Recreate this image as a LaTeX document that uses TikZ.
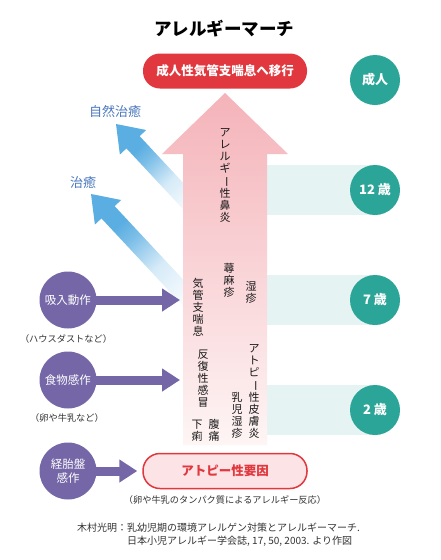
\documentclass[tikz,border=0pt]{standalone}
\usepackage{fontspec}
\setmainfont{Noto Sans CJK JP}
\usepackage{graphicx}
\usetikzlibrary{arrows.meta,positioning,calc}
\definecolor{ink}{HTML}{333333}
\definecolor{alarm}{HTML}{E0383E}
\definecolor{alarmbg}{HTML}{FCE3E5}
\definecolor{march}{HTML}{F4B3B9}
\definecolor{marchend}{HTML}{FEF5F5}
\definecolor{age}{HTML}{2BA598}
\definecolor{agebg}{HTML}{E5F4F2}
\definecolor{cause}{HTML}{7567A7}
\definecolor{heal}{HTML}{5BAEE2}
\definecolor{healtext}{HTML}{4A78BE}
\pgfdeclareverticalshading{healfade}{100bp}{color(0bp)=(white); color(22bp)=(white);
  color(44bp)=(heal!25); color(60bp)=(heal!80); color(68bp)=(heal); color(100bp)=(heal)}
\newcommand{\chouon}{\rotatebox[origin=c]{-90}{ー}}
\tikzset{
  agecircle/.style={circle, fill=age, text=white, minimum size=50pt, inner sep=0pt,
                    font=\fontsize{13}{13}\selectfont\bfseries},
  causecircle/.style={circle, fill=cause, text=white, minimum size=57pt, inner sep=0pt,
                      align=center, font=\fontsize{11.5}{14}\selectfont},
  causearrow/.style={-{Triangle[length=18pt,width=22pt]}, line width=9pt, draw=cause},
  pill/.style={rounded corners=17pt, minimum width=164pt, minimum height=35pt, inner sep=0pt,
               font=\fontsize{12.5}{13}\selectfont\bfseries},
  vlabel/.style={align=center, inner sep=0pt, font=\fontsize{11}{12}\selectfont, text=black!90},
  note/.style={text=ink, inner sep=0pt, font=\fontsize{9.2}{11}\selectfont},
  healtxt/.style={text=healtext, inner sep=0pt, font=\fontsize{13}{13}\selectfont},
  band/.style={fill=agebg}
}
\begin{document}
\begin{tikzpicture}[x=1pt,y=-1pt]
  \useasboundingbox[fill=white] (0,0) rectangle (440,560);

  % title
  \node[font=\fontsize{17.5}{18}\selectfont\bfseries] (title) at (224,29) {アレルギーマーチ};

  % healing arrows (behind the march)
  \foreach \tx/\ty/\len in {116/124/125, 91/194/160} {
    \begin{scope}[shift={(\tx,\ty)}, rotate=-47]
      \shade[shading=healfade, shading angle=43]
        (0,0) -- (25,18) -- (25,9) -- (\len,9) -- (\len,-9) -- (25,-9) -- (25,-18) -- cycle;
    \end{scope}
  }
  \node[healtxt] (natural) at (115,112) {自然治癒};
  \node[healtxt] (cured) at (83,183) {治癒};

  % age bands
  \foreach \y in {190,300,410}
    {\fill[band] (267,{\y-25}) rectangle (375,{\y+25});}

  % the march arrow
  \shade[top color=march, bottom color=marchend]
    (225,93) -- (288,154) -- (267,154) -- (267,445) -- (183,445) -- (183,154) -- (162,154) -- cycle;

  % ages
  \foreach \y/\name/\lab in {80/adult/成人, 190/age12/12 歳, 300/age7/7 歳, 410/age2/2 歳}
    {\node[agecircle] (\name) at (375,\y) {\lab};}

  \node[pill, fill=alarm, text=white] (goal) at (225,71) {成人性気管支喘息へ移行};
  \node[pill, fill=alarmbg, draw=alarm, line width=1.5pt, text=alarm] (atopy) at (225,471) {アトピー性要因};
  \node[note] (atopynote) at (225,500) {（卵や牛乳のタンパク質によるアレルギー反応）};

  % symptoms along the march
  \node[vlabel] (rhinitis) at (225,175.5) {ア\\レ\\ル\\ギ\\\chouon\\性\\鼻\\炎};
  \node[vlabel] (urticaria) at (229,280.5) {蕁\\麻\\疹};
  \node[vlabel] (eczema) at (251,292) {湿\\疹};
  \node[vlabel] (asthma) at (198,307) {気\\管\\支\\喘\\息};
  \node[vlabel] (cold) at (203,379) {反\\復\\性\\感\\冒};
  \node[vlabel] (dermatitis) at (254,391.5) {ア\\ト\\ピ\\\chouon\\性\\皮\\膚\\炎};
  \node[vlabel] (infant) at (237,415) {乳\\児\\湿\\疹};
  \node[vlabel] (pain) at (214,430) {腹\\痛};
  \node[vlabel] (diarrhea) at (197,431) {下\\痢};

  % sensitisation routes
  \node[causecircle] (inhale) at (68,300) {吸入動作};
  \node[causecircle] (food) at (68,380) {食物感作};
  \node[causecircle] (womb) at (68,471) {経胎盤\\感作};
  \node[note] (inhalenote) at (66,339) {（ハウスダストなど）};
  \node[note] (foodnote) at (67,418) {（卵や牛乳など）};
  \coordinate (inhaletip) at (180,300);
  \coordinate (foodtip) at (180,380);
  \draw[causearrow, shorten <=-2pt] (inhale) -- (inhaletip);
  \draw[causearrow, shorten <=-2pt] (food) -- (foodtip);
  \draw[causearrow, shorten <=-2pt, shorten >=5pt] (womb) -- (atopy);

  % source
  \node[note, font=\fontsize{10}{13}\selectfont, anchor=north west, align=left] (source) at (77,523)
    {木村光明：乳幼児期の環境アレルゲン対策とアレルギーマーチ.\\\hspace*{5em}日本小児アレルギー学会誌, 17, 50, 2003. より作図};
\end{tikzpicture}
\end{document}
